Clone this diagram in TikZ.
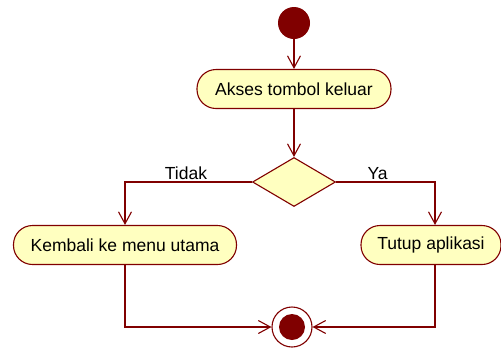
\documentclass[tikz,border=0pt]{standalone}
\usepackage{fontspec}
\setmainfont{Liberation Sans}
\usepackage{tikz}
\usetikzlibrary{positioning,arrows.meta,shapes.geometric}
\definecolor{umlline}{RGB}{128,0,0}
\definecolor{umlfill}{RGB}{255,255,192}
\tikzset{
  flowarrow/.style={-{Straight Barb[length=12pt,width=13pt]}, line width=1.1pt, draw=umlline},
  actnode/.style={draw=umlline, line width=1.1pt, rounded corners=19pt, fill=umlfill, minimum height=39pt, align=center, font=\fontsize{17.5}{20}\selectfont},
  decnode/.style={draw=umlline, line width=1.1pt, diamond, aspect=1.7, fill=umlfill, minimum width=83pt, minimum height=49pt, inner sep=0pt},
  startnode/.style={circle, fill=umlline, minimum size=32pt, inner sep=0pt},
  endnode/.style={circle, draw=umlline, line width=1.1pt, fill=white, minimum size=40pt, inner sep=0pt},
  relabel/.style={font=\fontsize{17.5}{20}\selectfont, inner sep=2pt}
}
\begin{document}
\begin{tikzpicture}[x=1pt, y=-1pt]
  \useasboundingbox (0,0) rectangle (501,349);
  \node[startnode] (start) at (294,23) {};
  \node[actnode, minimum width=194pt] (akses) at (294,89) {Akses tombol keluar};
  \node[decnode] (pilih) at (294,182) {};
  \node[actnode, minimum width=223pt] (kembali) at (125,245) {Kembali ke menu utama};
  \node[actnode, minimum width=140pt] (tutup) at (431,245) {Tutup aplikasi};
  \node[endnode] (selesai) at (292,327) {};
  \fill[umlline] (selesai.center) circle (13pt);

  \draw[flowarrow] (start) -- (akses);
  \draw[flowarrow] (akses) -- (pilih);
  \draw[flowarrow] (pilih.west) -| (kembali.north)
    node[relabel, pos=0.26, above] {Tidak};
  \draw[flowarrow] (pilih.east) -| ([xshift=4pt]tutup.north)
    node[relabel, pos=0.21, above] {Ya};
  \draw[flowarrow] (kembali.south) |- (selesai.west);
  \draw[flowarrow] ([xshift=4pt]tutup.south) |- (selesai.east);
\end{tikzpicture}
\end{document}
